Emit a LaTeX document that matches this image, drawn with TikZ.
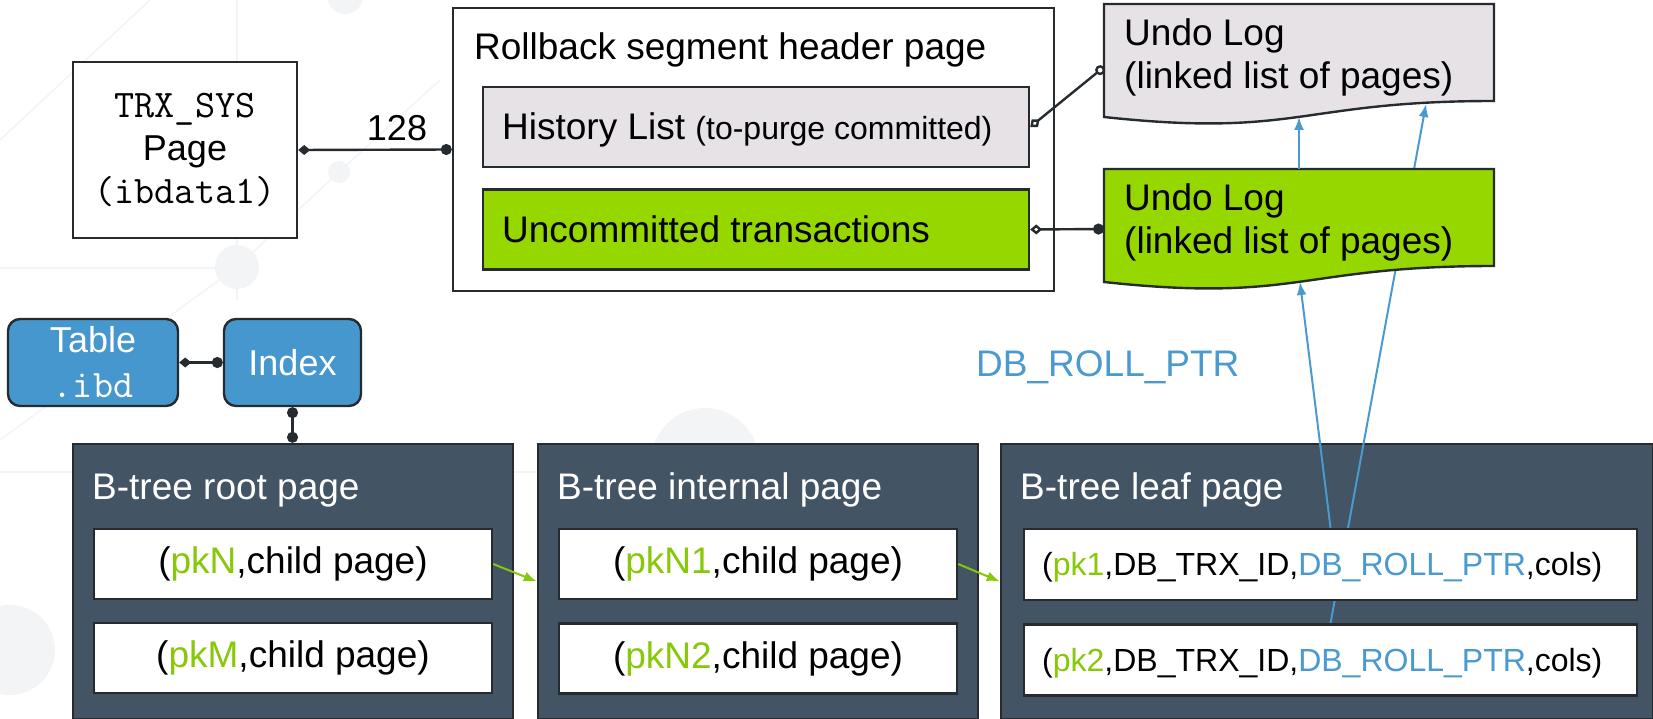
\documentclass[tikz,border=0pt]{standalone}
\usepackage{fontspec}
\setmainfont{Liberation Sans}
\usetikzlibrary{arrows.meta, positioning}
\definecolor{slate}{HTML}{435464}
\definecolor{loggray}{HTML}{E6E2E6}
\definecolor{loggreen}{HTML}{96D700}
\definecolor{pkgreen}{HTML}{87C808}
\definecolor{ptrblue}{HTML}{4A9AD0}
\definecolor{boxblue}{HTML}{4597CD}
\definecolor{edge}{HTML}{262B30}
\definecolor{decogray}{HTML}{F3F4F6}
\newcommand{\pk}[1]{\textcolor{pkgreen}{#1}}
\newcommand{\rollptr}{\textcolor{ptrblue}{DB\_ROLL\_PTR}}
\newcommand{\mono}[1]{{\ttfamily\fontsize{39}{43}\selectfont #1}}
\pgfdeclarelayer{pages}
\pgfdeclarelayer{ptr}
\pgfsetlayers{pages,ptr,main}
\tikzset{
  txt/.style={font=\fontsize{37}{43}\selectfont},
  lbl/.style={txt, anchor=base west, inner sep=0pt},
  stroke/.style={draw=edge, line width=2.4pt},
  framebox/.style={stroke, fill=white, inner sep=0pt},
  listbox/.style={stroke, inner sep=0pt, minimum width=546pt, minimum height=80pt},
  bluebox/.style={stroke, fill=boxblue, rounded corners=12pt, text=white, inner sep=0pt, minimum height=87pt, align=center, font=\fontsize{36}{45}\selectfont},
  pagebox/.style={stroke, fill=slate, inner sep=0pt, minimum height=275pt},
  pagetitle/.style={lbl, text=white},
  rowbox/.style={stroke, fill=white, inner sep=0pt, minimum width=398pt, minimum height=70pt, txt},
  leafrow/.style={stroke, fill=white, inner sep=0pt, minimum width=613pt, minimum height=71pt},
  undolog/.style={stroke},
  logtext/.style={txt, anchor=north west, inner sep=0pt, align=left},
  conn/.style={stroke},
  ptrarrow/.style={draw=ptrblue, line width=2pt, -{Latex[length=13pt,width=10pt]}},
  childarrow/.style={draw=pkgreen, line width=2pt, -{Latex[length=13pt,width=10pt]}},
  deco/.style={draw=decogray, line width=1.5pt},
}

\begin{document}
\begin{tikzpicture}[x=1pt, y=-1pt]
\useasboundingbox (0,0) rectangle (1653,719);
% faint background pattern and the B-tree pages
\begin{pgfonlayer}{pages}
\draw[deco] (0,140) -- (150,0);
\draw[deco] (237,0) -- (237,300);
\draw[deco] (0,268) -- (237,268);
\draw[deco] (237,267) -- (339,172) -- (440,80);
\draw[deco] (237,267) -- (0,440);
\draw[deco] (0,472) -- (560,472);
\fill[decogray] (345,-4) circle (18);
\fill[decogray] (339,172) circle (11);
\fill[decogray] (237,267) circle (22);
\fill[decogray] (705,462) circle (54);
\fill[decogray] (10,650) circle (45);
\node[pagebox, minimum width=440pt] (root) at (293,581.5) {};
\node[pagebox, minimum width=440pt] (inner) at (758,581.5) {};
\node[pagebox, minimum width=652pt] (leaf) at (1327,581.5) {};
\end{pgfonlayer}

% TRX_SYS and rollback segment
\node[framebox, minimum width=224pt, minimum height=176pt, align=center, font=\fontsize{36}{43}\selectfont] (trx) at (185,150) {\mono{TRX\_SYS}\\Page\\\mono{(ibdata1)}};
\node[framebox, minimum width=601pt, minimum height=283pt] (rbseg) at (753.5,149.5) {};
\node[lbl] (rbtitle) at (474,60) {Rollback segment header page};
\node[listbox, fill=loggray] (hist) at (756,127) {};
\node[lbl] (histtxt) at (502,140) {History List {\fontsize{32}{37}\selectfont(to-purge committed)}};
\node[listbox, fill=loggreen] (uncommit) at (756,229.5) {};
\node[lbl] (uncommittxt) at (502,243) {Uncommitted transactions};

% undo logs
\filldraw[undolog, fill=loggray] (1104,4) -- (1494,4) -- (1494,101) .. controls (1299,101) and (1299,138) .. (1104,117) -- cycle;
\node[logtext] (undoAtxt) at (1124,18) {Undo Log\\(linked list of pages)};
\filldraw[undolog, fill=loggreen] (1104,169) -- (1494,169) -- (1494,266) .. controls (1299,266) and (1299,303) .. (1104,282) -- cycle;
\node[logtext] (undoBtxt) at (1124,183) {Undo Log\\(linked list of pages)};
\coordinate (undoAin) at (1104,67);
\coordinate (undoAbot) at (1299,117);
\coordinate (undoAptr) at (1426,104);
\coordinate (undoBin) at (1104,229);
\coordinate (undoBtop) at (1299,169);
\coordinate (undoBbot) at (1300,282);

% table and index
\node[bluebox, minimum width=170pt] (tbl) at (93,362.5) {Table\\\mono{.ibd}};
\node[bluebox, minimum width=137pt] (idx) at (292.5,362.5) {Index};

% page titles and records
\node[pagetitle] (roottitle) at (92,499) {B-tree root page};
\node[pagetitle] (innertitle) at (557,499) {B-tree internal page};
\node[pagetitle] (leaftitle) at (1020,499) {B-tree leaf page};
\node[rowbox] (rrow1) at (293,564) {(\pk{pkN},child page)};
\node[rowbox] (rrow2) at (293,658) {(\pk{pkM},child page)};
\node[rowbox] (irow1) at (758,564) {(\pk{pkN1},child page)};
\node[rowbox] (irow2) at (758,658.5) {(\pk{pkN2},child page)};
\node[leafrow] (lrow1) at (1330.5,564.5) {};
\node[leafrow] (lrow2) at (1330.5,660) {};
\node[lbl, font=\fontsize{32}{38}\selectfont] (lrow1txt) at (1042,575) {(\pk{pk1},DB\_TRX\_ID,\rollptr,cols)};
\node[lbl, font=\fontsize{32}{38}\selectfont] (lrow2txt) at (1042,671) {(\pk{pk2},DB\_TRX\_ID,\rollptr,cols)};

% connectors
\draw[conn, {Diamond[length=12pt,width=10pt]}-{Circle[length=11pt]}] (trx.east) -- (rbseg.west);
\node[anchor=base, inner sep=0pt, font=\fontsize{36}{43}\selectfont] (slots) at (397,141) {128};
\draw[conn, {Diamond[open,length=12pt,width=10pt]}-{Circle[open,length=10pt]}] (hist.east) -- (undoAin);
\draw[conn, {Diamond[open,length=12pt,width=10pt]}-{Circle[length=11pt]}] (uncommit.east) -- (undoBin);
\draw[conn, {Diamond[length=12pt,width=10pt]}-{Circle[length=11pt]}] (tbl.east) -- (idx.west);
\draw[conn, {Circle[length=11pt]}-{Circle[length=11pt]}] (idx.south) -- (idx.south |- root.north);
\draw[childarrow] (rrow1.east) -- (inner.west);
\draw[childarrow] (irow1.east) -- (leaf.west);

% roll pointers
\node[lbl, text=ptrblue] (ptrlabel) at (976,376) {DB\_ROLL\_PTR};
\draw[ptrarrow] (lrow1.north) -- (undoBbot);
\draw[ptrarrow] (undoBtop) -- (undoAbot);
\begin{pgfonlayer}{ptr}
\draw[ptrarrow] (lrow2.north) -- (undoAptr);
\end{pgfonlayer}
\end{tikzpicture}
\end{document}
